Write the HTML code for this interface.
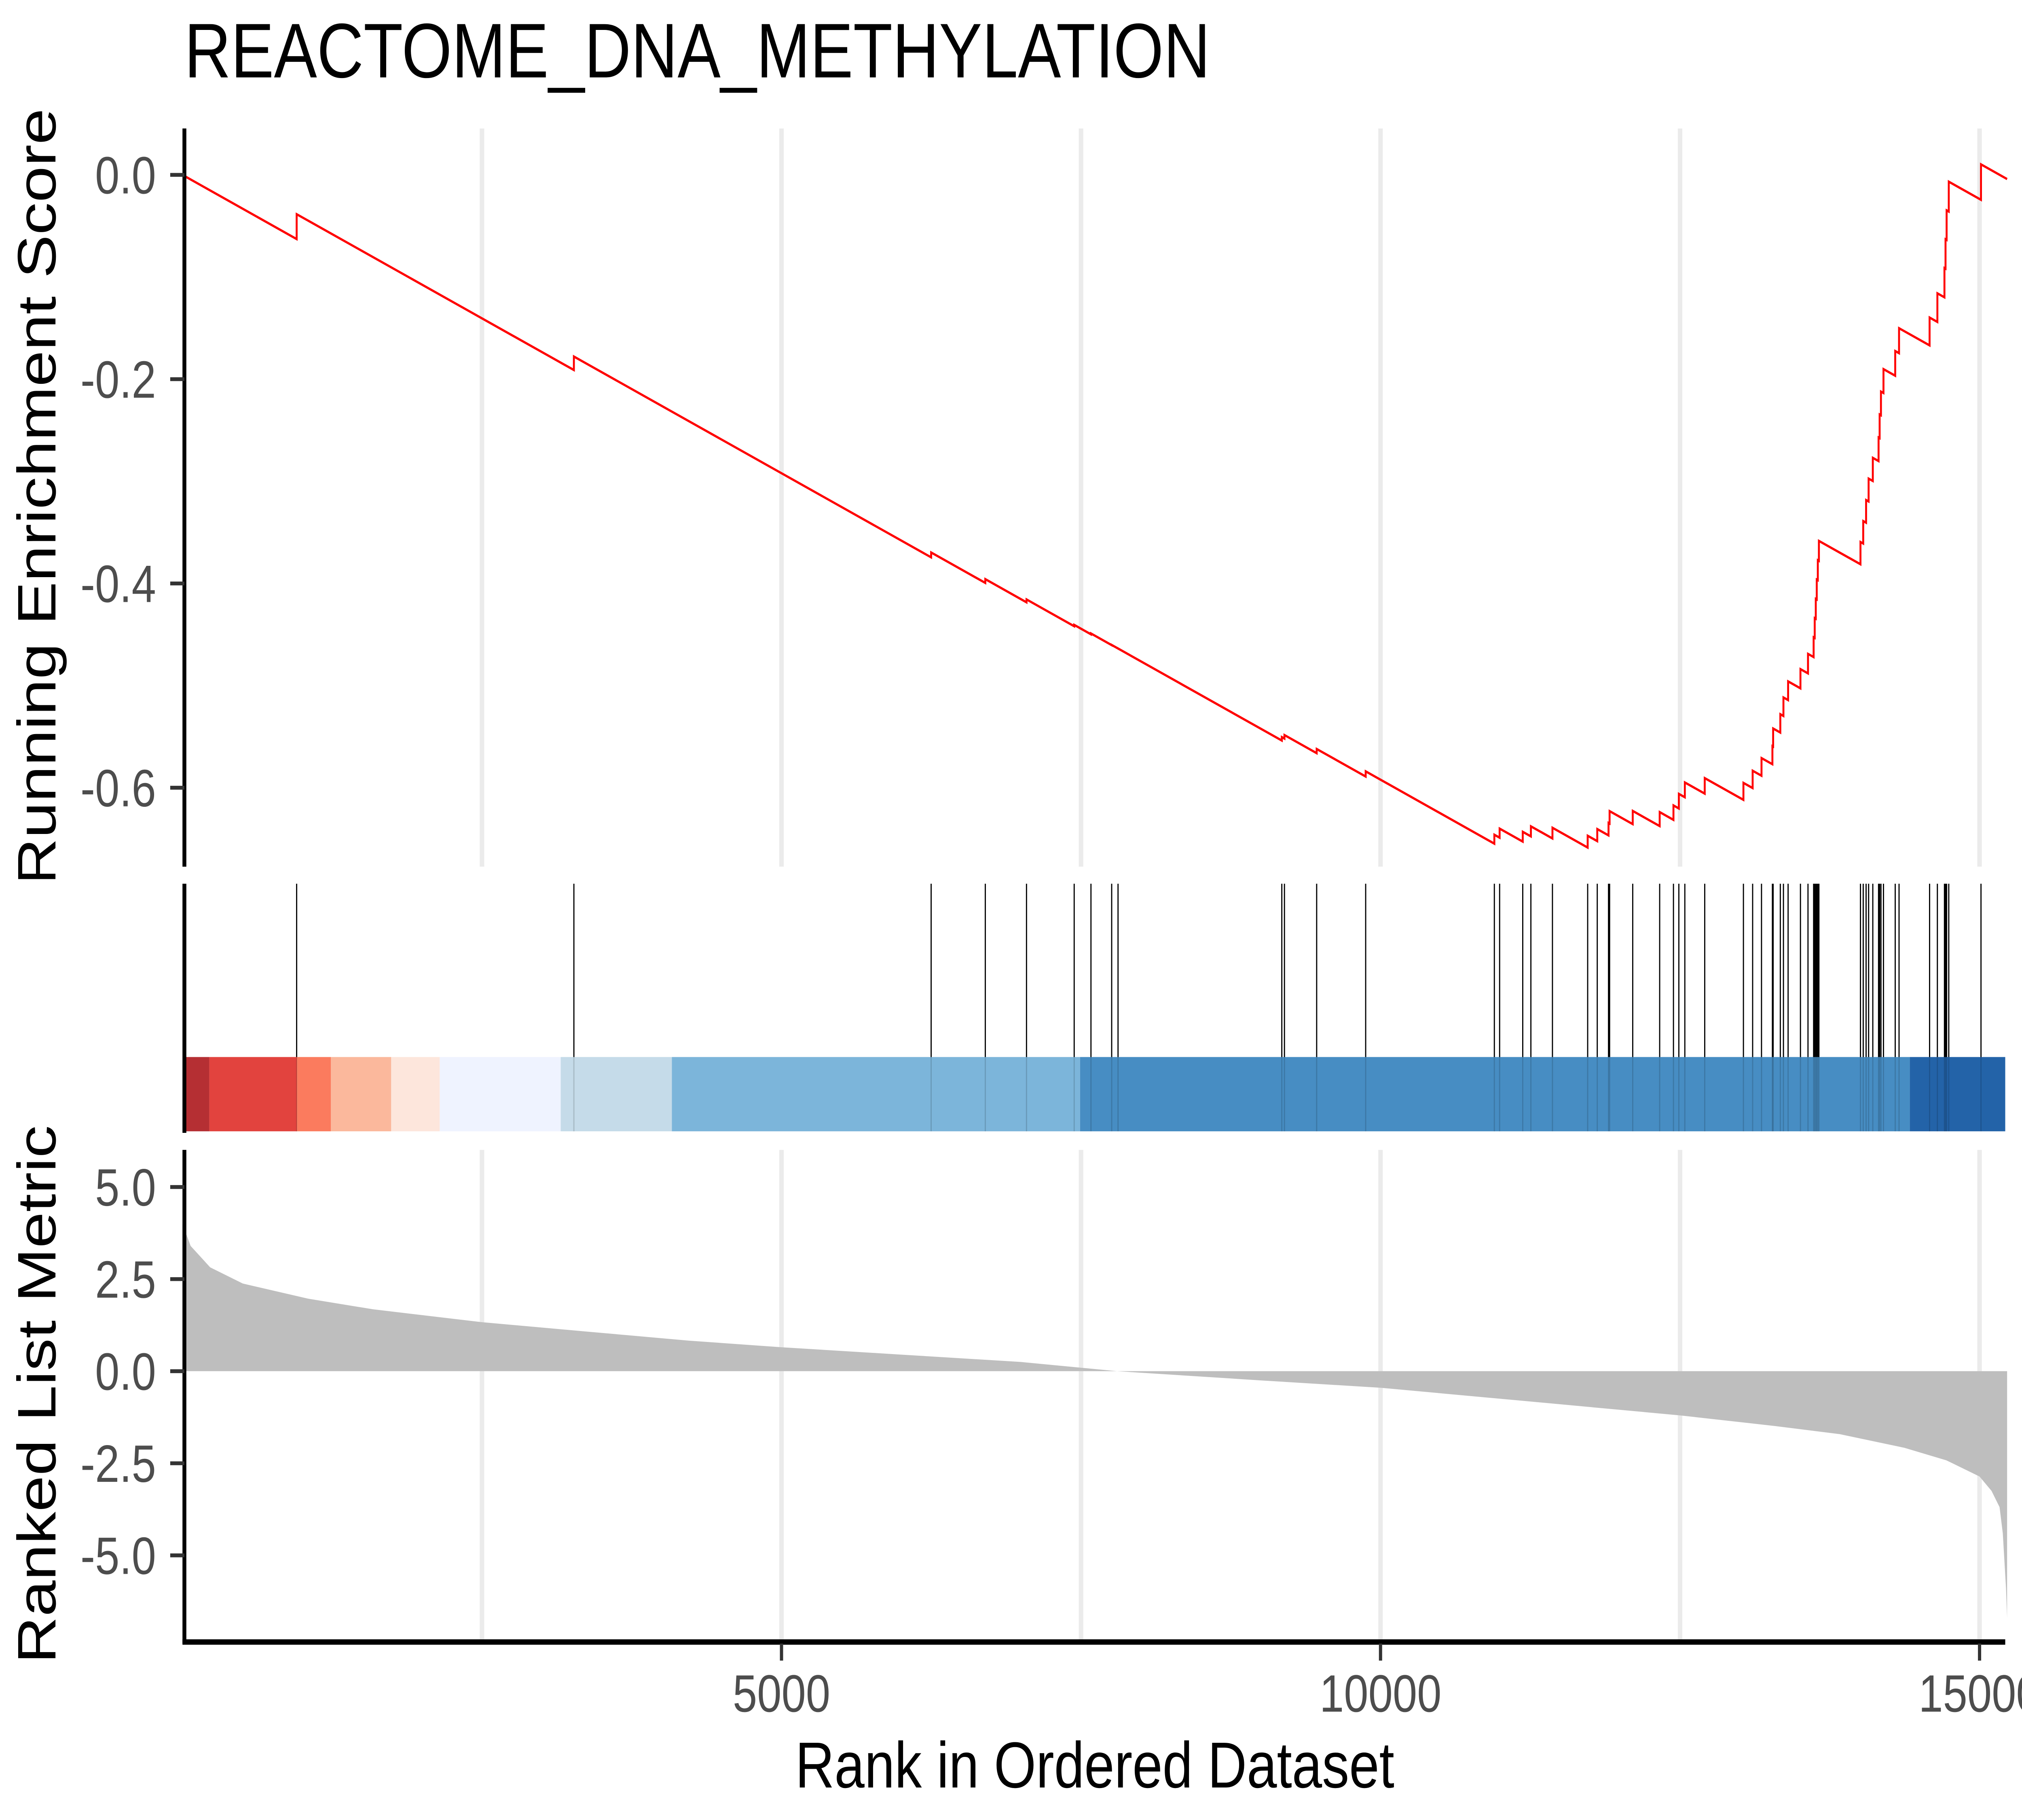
<!DOCTYPE html>
<html><head><meta charset="utf-8">
<style>
html,body{margin:0;padding:0;background:#fff;width:100%;height:100%;overflow:hidden;}
svg{display:block;width:100vw;height:100vh;}
text{font-family:"Liberation Sans",Arial,sans-serif;}
</style></head>
<body>
<svg id="chart" xmlns="http://www.w3.org/2000/svg" viewBox="0 0 1568 1176" preserveAspectRatio="none">
<rect x="0" y="0" width="1568" height="1176" fill="#fff"/>
<defs><clipPath id="clipTop"><rect x="0" y="0" width="200" height="568"/></clipPath></defs>
<text x="143" y="50" font-size="50" fill="#000">REACTOME_DNA_METHYLATION</text>
<g id="gridTop"></g>
<g id="gridBot"></g>
<g id="metricG"></g>
<g id="bandG"></g>
<g id="hitsG"></g>
<g id="esG"></g>
<g id="axesG"></g>
<g clip-path="url(#clipTop)"><text transform="translate(43,321) rotate(-90)" text-anchor="middle" font-size="42" fill="#000">Running Enrichment Score</text></g>
<text transform="translate(43,901) rotate(-90)" text-anchor="middle" font-size="42" fill="#000">Ranked List Metric</text>
<text x="849" y="1155" text-anchor="middle" font-size="42" fill="#000">Rank in Ordered Dataset</text>
</svg>
<script>
const totalGenes = 15230;
const hitRanks = [953,3267,6249,6701,7045,7443,7583,7756,7809,9176,9198,9467,9876,
10950,10994,11187,11255,11435,11729,11809,11903,11912,12105,12330,12445,12490,12540,12706,
13029,13106,13180,13271,13277,13337,13363,13402,13505,13568,13615,13624,13633,13641,13650,13659,
14006,14029,14053,14074,14109,14157,14166,14177,14198,14296,14328,14583,14648,14707,14716,14725,14743,15012];
const metricRanks = [0,68,231,503,1047,1591,2500,3360,4225,5000,6000,7000,7800,9000,10000,11140,12500,13295,13834,14373,14723,15000,15100,15167,15194,15221,15230];
const metricValues = [4.0,3.4,2.82,2.38,1.97,1.68,1.33,1.08,0.83,0.65,0.45,0.25,0.0,-0.25,-0.45,-0.79,-1.2,-1.49,-1.71,-2.08,-2.42,-2.86,-3.25,-3.69,-4.4,-5.9,-6.7];
const bandStarts = [0,224,955,1239,1742,2147,3157,4085,7492,14418];
const bandColors = ["#B52F33","#E2433E","#FB7B5E","#FBB89C","#FDE6DC","#EFF3FF","#C5DBE9","#7CB5DA","#478DC3","#2363A8"];
const xTicks = [5000,10000,15000];
const xGrid = [2500,5000,7500,10000,12500,15000];
const esTicks = [0,-0.2,-0.4,-0.6];
const esTickLabels = ["0.0","-0.2","-0.4","-0.6"];
const metricTicks = [5,2.5,0,-2.5,-5];
const metricTickLabels = ["5.0","2.5","0.0","-2.5","-5.0"];

const NS="http://www.w3.org/2000/svg";
const X0=141.51, XK=0.092905, XR=1555;
const xs = r => X0 + r*XK;
const yES = v => 113 - v*660;
const yM = v => 886 - v*23.8;
function mk(tag, parent, attrs){const e=document.createElementNS(NS,tag);for(const k in attrs)e.setAttribute(k,attrs[k]);parent.appendChild(e);return e;}
function metricAt(r){
  if(r<=metricRanks[0])return metricValues[0];
  for(let i=1;i<metricRanks.length;i++){
    if(r<=metricRanks[i]){const t=(r-metricRanks[i-1])/(metricRanks[i]-metricRanks[i-1]);return metricValues[i-1]+t*(metricValues[i]-metricValues[i-1]);}
  }
  return metricValues[metricValues.length-1];
}
const gT=document.getElementById('gridTop'), gB=document.getElementById('gridBot');
xGrid.forEach(r=>{
  const a=mk('line',gT,{x1:xs(r),x2:xs(r),y1:83,y2:560,stroke:'#EBEBEB','stroke-width':3.5});
  
  
  const b=mk('line',gB,{x1:xs(r),x2:xs(r),y1:743,y2:1061,stroke:'#EBEBEB','stroke-width':3.5});
  
  
});
const mG=document.getElementById('metricG');
let d='M'+xs(metricRanks[0])+','+yM(0);
metricRanks.forEach((r,i)=>{d+=' L'+xs(r)+','+yM(metricValues[i]);});
d+=' L'+xs(metricRanks[metricRanks.length-1])+','+yM(0)+' Z';
const area=mk('path',mG,{d:d,fill:'#BEBEBE'});


const bG=document.getElementById('bandG');
bandStarts.forEach((s,i)=>{
  const e=(i+1<bandStarts.length)?bandStarts[i+1]:totalGenes;
  const x1=Math.max(xs(s),143), x2=Math.min(xs(e),XR);
  const r=mk('rect',bG,{x:x1,y:683,width:x2-x1,height:48,fill:bandColors[i]});
  
  
});
const hG=document.getElementById('hitsG');
hitRanks.forEach(h=>{
  const l=mk('line',hG,{x1:xs(h),x2:xs(h),y1:571,y2:683,stroke:'#000','stroke-width':0.9});
  
  
  const l2=mk('line',hG,{x1:xs(h),x2:xs(h),y1:683,y2:731,stroke:'#000','stroke-width':0.9,'stroke-opacity':0.15});
  
  
});
const weights=hitRanks.map(h=>Math.abs(metricAt(h)));
const sumW=weights.reduce((a,b)=>a+b,0);
const miss=1/(totalGenes-hitRanks.length);
let es=0, prev=0; const pts=[[0,0]];
hitRanks.forEach((h,i)=>{es-=miss*(h-prev);pts.push([h,es]);es+=weights[i]/sumW;pts.push([h,es]);prev=h;});
es-=miss*(totalGenes-prev);pts.push([totalGenes,es]);
const eG=document.getElementById('esG');
const pl=mk('polyline',eG,{points:pts.map(p=>xs(p[0]).toFixed(2)+','+yES(p[1]).toFixed(2)).join(' '),fill:'none',stroke:'#FF0000','stroke-width':1.5,'stroke-linejoin':'miter'});


const aG=document.getElementById('axesG');
[[83,560],[571,732],[743,1062]].forEach(([y1,y2])=>{
  const a=mk('line',aG,{x1:143,x2:143,y1:y1,y2:y2,stroke:'#000','stroke-width':3});
  
  
});
const xl=mk('line',aG,{x1:141.5,x2:XR,y1:1061,y2:1061,stroke:'#000','stroke-width':3.5});


esTicks.forEach((v,i)=>{
  const t=mk('line',aG,{x1:132,x2:143,y1:yES(v),y2:yES(v),stroke:'#333','stroke-width':2.5});
  
  
  const tx=mk('text',aG,{x:121,y:yES(v)+12,'text-anchor':'end','font-size':34,fill:'#4D4D4D'});
  tx.textContent=esTickLabels[i];
  
  
});
metricTicks.forEach((v,i)=>{
  const t=mk('line',aG,{x1:132,x2:143,y1:yM(v),y2:yM(v),stroke:'#333','stroke-width':2.5});
  
  
  const tx=mk('text',aG,{x:121,y:yM(v)+12,'text-anchor':'end','font-size':34,fill:'#4D4D4D'});
  tx.textContent=metricTickLabels[i];
  
  
});
xTicks.forEach(r=>{
  const t=mk('line',aG,{x1:xs(r),x2:xs(r),y1:1062,y2:1073,stroke:'#333','stroke-width':2.5});
  
  
  const tx=mk('text',aG,{x:xs(r),y:1106,'text-anchor':'middle','font-size':34,fill:'#4D4D4D'});
  tx.textContent=String(r);
  
  
});
</script>
</body></html>
